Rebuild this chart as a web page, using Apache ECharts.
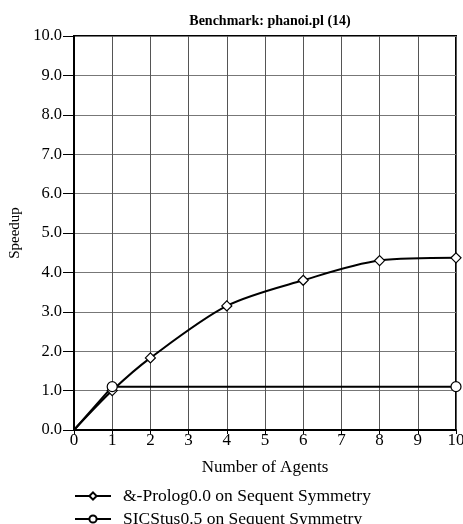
<!DOCTYPE html>
<html><head><meta charset="utf-8">
<script src="https://cdn.jsdelivr.net/npm/echarts@6/dist/echarts.min.js"></script>
<style>html,body{margin:0;padding:0;background:#fff}#c{width:463px;height:524px}</style>
</head><body><div id="c"></div>
<script>
const titleText = 'Benchmark: phanoi.pl (14)';
const seriesNames = ['&-Prolog0.0 on Sequent Symmetry', 'SICStus0.5 on Sequent Symmetry'];
const prologX = [0, 1, 2, 4, 6, 8, 10];
const prologY = [0, 1.0, 1.83, 3.15, 3.8, 4.3, 4.37];
const sicsX = [0, 1, 10];
const sicsY = [0, 1.1, 1.1];
const F = 'Liberation Serif';
const legendBase = {orient: 'horizontal', left: 69, itemWidth: 36, itemHeight: 9,
  textStyle: {fontFamily: F, fontSize: 17.5, color: '#000', padding: [0, 0, 0, 7]}};
function pts(xs, ys) {
  return xs.map((x, i) => i === 0 ? {value: [x, ys[i]], symbol: 'none'} : [x, ys[i]]);
}
const chart = echarts.init(document.getElementById('c'));
chart.setOption({
  animation: false,
  title: {text: titleText, left: 265, textAlign: 'center', top: 9,
    textStyle: {fontFamily: F, fontSize: 14, fontWeight: 'bold', color: '#000'}},
  grid: {left: 74, right: 7, top: 36, bottom: 94, show: true, borderColor: '#000', borderWidth: 2,
    outerBoundsMode: 'none', containLabel: false},
  xAxis: {type: 'value', min: 0, max: 10, interval: 1,
    name: 'Number of Agents', nameLocation: 'middle', nameGap: 29,
    nameTextStyle: {fontFamily: F, fontSize: 17, color: '#000'},
    axisLine: {lineStyle: {color: '#000', width: 2}},
    axisTick: {show: true, length: 4, lineStyle: {color: '#000'}},
    axisLabel: {fontFamily: F, fontSize: 17, color: '#000', margin: 2},
    splitLine: {lineStyle: {color: '#555', width: 1}}},
  yAxis: {type: 'value', min: 0, max: 10, interval: 1,
    name: 'Speedup', nameLocation: 'middle', nameGap: 44, nameRotate: 90,
    nameTextStyle: {fontFamily: F, fontSize: 15, color: '#000'},
    axisLine: {lineStyle: {color: '#000', width: 2}},
    axisTick: {show: true, inside: false, length: 11, lineStyle: {color: '#000'}},
    axisLabel: {fontFamily: F, fontSize: 16.5, color: '#000', margin: 12,
      formatter: v => v.toFixed(1)},
    splitLine: {lineStyle: {color: '#777', width: 1}}},
  legend: [
    Object.assign({}, legendBase, {top: 482, data: [seriesNames[0]]}),
    Object.assign({}, legendBase, {top: 505, data: [seriesNames[1]]})
  ],
  series: [
    {name: seriesNames[0], type: 'line', smooth: 0.3, symbol: 'diamond', symbolSize: 10,
      data: pts(prologX, prologY),
      lineStyle: {color: '#000', width: 2},
      itemStyle: {color: '#fff', borderColor: '#000', borderWidth: 1.2}},
    {name: seriesNames[1], type: 'line', symbol: 'circle', symbolSize: 10,
      data: pts(sicsX, sicsY),
      lineStyle: {color: '#000', width: 2},
      itemStyle: {color: '#fff', borderColor: '#000', borderWidth: 1.2}}
  ]
});
</script></body></html>
